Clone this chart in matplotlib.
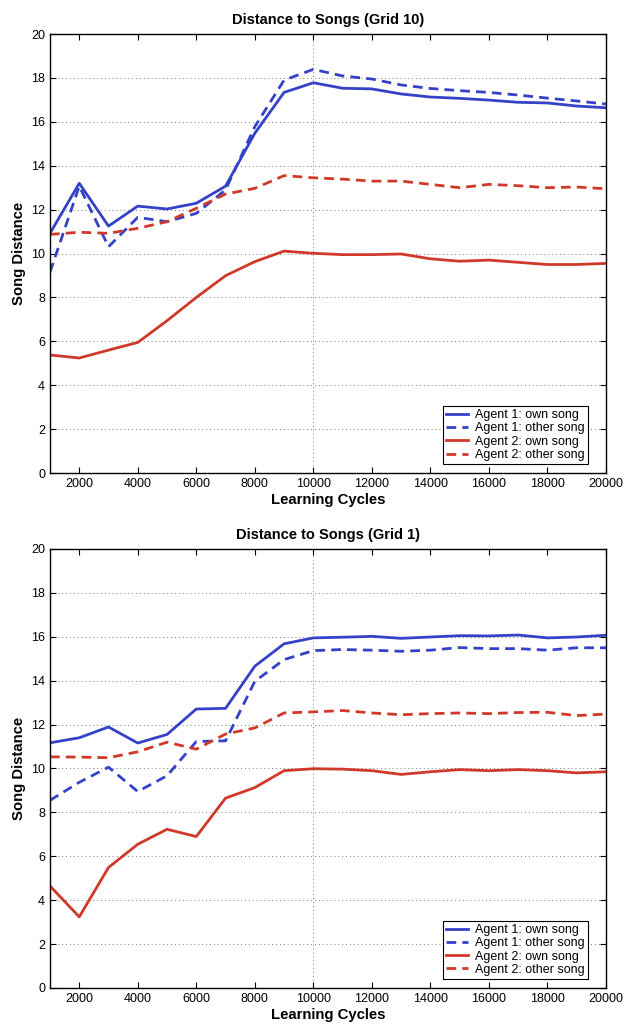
import matplotlib
matplotlib.use('Agg')
import matplotlib.pyplot as plt
import numpy as np

plt.rcParams['font.family'] = ['Liberation Sans', 'DejaVu Sans']

cycles = np.arange(1000, 20001, 1000)

# Grid 10
g10_a1_own = [10.92, 13.2, 11.25, 12.16, 12.03, 12.29, 13.07, 15.48, 17.34, 17.78,
              17.53, 17.5, 17.27, 17.13, 17.07, 16.99, 16.89, 16.86, 16.72, 16.64]
g10_a1_other = [9.15, 13.07, 10.31, 11.65, 11.45, 11.83, 12.9, 15.78, 17.9, 18.39,
                18.09, 17.95, 17.68, 17.52, 17.42, 17.34, 17.22, 17.08, 16.95, 16.81]
g10_a2_own = [5.38, 5.24, 5.6, 5.95, 6.94, 8.0, 8.99, 9.63, 10.11, 10.01,
              9.95, 9.95, 9.98, 9.76, 9.65, 9.7, 9.6, 9.5, 9.5, 9.55]
g10_a2_other = [10.87, 10.97, 10.92, 11.15, 11.45, 12.06, 12.71, 12.97, 13.55, 13.45,
                13.39, 13.3, 13.3, 13.15, 13.0, 13.15, 13.09, 13.0, 13.03, 12.95]

# Grid 1
g1_a1_own = [11.17, 11.4, 11.89, 11.16, 11.55, 12.71, 12.74, 14.66, 15.68, 15.95,
             15.98, 16.02, 15.93, 15.99, 16.05, 16.04, 16.08, 15.95, 15.99, 16.07]
g1_a1_other = [8.55, 9.37, 10.06, 8.95, 9.67, 11.23, 11.26, 13.97, 14.96, 15.37,
               15.42, 15.39, 15.34, 15.39, 15.51, 15.46, 15.46, 15.39, 15.5, 15.5]
g1_a2_own = [4.65, 3.24, 5.49, 6.55, 7.23, 6.9, 8.65, 9.13, 9.9, 9.99,
             9.97, 9.9, 9.73, 9.85, 9.95, 9.9, 9.95, 9.9, 9.8, 9.85]
g1_a2_other = [10.53, 10.52, 10.49, 10.76, 11.2, 10.88, 11.57, 11.85, 12.53, 12.58,
               12.64, 12.53, 12.45, 12.5, 12.53, 12.5, 12.55, 12.56, 12.41, 12.48]

labels = ['Agent 1: own song', 'Agent 1: other song',
          'Agent 2: own song', 'Agent 2: other song']
titles = ['Distance to Songs (Grid 10)', 'Distance to Songs (Grid 1)']

blue = '#3442c8'
red = '#d0392a'
dash = (3.5, 2.2)

fig = plt.figure(figsize=(6.24, 10.25), dpi=100)
ax_top = fig.add_axes([0.0801, 0.5385, 0.891, 0.4283])
ax_bot = fig.add_axes([0.0801, 0.0361, 0.891, 0.4283])

panels = [(ax_top, g10_a1_own, g10_a1_other, g10_a2_own, g10_a2_other, titles[0]),
          (ax_bot, g1_a1_own, g1_a1_other, g1_a2_own, g1_a2_other, titles[1])]

for ax, a1o, a1x, a2o, a2x, title in panels:
    ax.plot(cycles, a1o, color=blue, lw=2.0, label=labels[0])
    ax.plot(cycles, a1x, color=blue, lw=2.0, dashes=dash, label=labels[1])
    ax.plot(cycles, a2o, color=red, lw=2.0, label=labels[2])
    ax.plot(cycles, a2x, color=red, lw=2.0, dashes=dash, label=labels[3])

    ax.set_xlim(1000, 20000)
    ax.set_ylim(0, 20)
    ax.set_xticks(np.arange(2000, 20001, 2000))
    ax.set_yticks(np.arange(0, 21, 2))
    ax.yaxis.grid(True, linestyle=(0, (1, 3)), color='#777777', lw=0.7)
    ax.axvline(10000, linestyle=(0, (1, 3)), color='#777777', lw=0.7, zorder=0)
    ax.tick_params(direction='in', top=True, right=True, length=4,
                   labelsize=9, width=0.8)
    for s in ax.spines.values():
        s.set_linewidth(1.0)

    ax.set_title(title, fontsize=10.5, fontweight='bold', pad=7)
    ax.set_xlabel('Learning Cycles', fontsize=10.7, fontweight='bold', labelpad=2)
    ax.set_ylabel('Song Distance', fontsize=10.7, fontweight='bold', labelpad=4)

    leg = ax.legend(loc='lower right', bbox_to_anchor=(0.9676, 0.0205),
                    fontsize=9, fancybox=False, framealpha=1, edgecolor='black',
                    borderpad=0.25, labelspacing=0.1, handlelength=1.7,
                    handletextpad=0.6, borderaxespad=0)
    leg.get_frame().set_linewidth(0.8)

fig.savefig('out.png', dpi=100)
